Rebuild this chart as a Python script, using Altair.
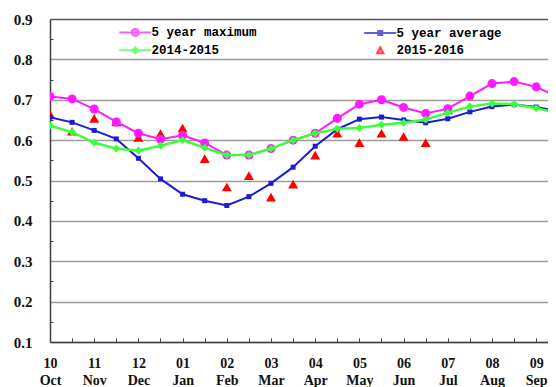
import json
import altair as alt
import pandas as pd

# ---- data (half-month steps starting at 1 Oct) ----
half_months = list(range(24))
max_5yr = [0.708, 0.702, 0.677, 0.645, 0.617, 0.602, 0.612, 0.593, 0.563, 0.563, 0.579, 0.600,
           0.617, 0.654, 0.689, 0.700, 0.681, 0.666, 0.678, 0.709, 0.740, 0.745, 0.732, 0.706]
avg_5yr = [0.657, 0.644, 0.624, 0.603, 0.555, 0.504, 0.466, 0.450, 0.438, 0.460, 0.493, 0.533,
           0.585, 0.627, 0.652, 0.657, 0.650, 0.643, 0.653, 0.670, 0.683, 0.688, 0.682, 0.671]
y_2014_2015 = [0.636, 0.620, 0.594, 0.579, 0.574, 0.586, 0.600, 0.581, 0.563, 0.563, 0.579, 0.600,
               0.617, 0.628, 0.630, 0.638, 0.643, 0.651, 0.668, 0.683, 0.691, 0.689, 0.679, 0.667]
y_2015_2016 = [0.664, 0.622, 0.654, 0.645, 0.607, 0.616, 0.630, 0.554, 0.484, 0.512, 0.459, 0.491,
               0.563, 0.617, 0.594, 0.617, 0.609, 0.594, 0.675]

month_numbers = ["10", "11", "12", "01", "02", "03", "04", "05", "06", "07", "08", "09"]
month_names = ["Oct", "Nov", "Dec", "Jan", "Feb", "Mar", "Apr", "May", "Jun", "Jul", "Aug", "Sep"]
series_names = ["5 year maximum", "5 year average", "2014-2015", "2015-2016"]
series_colors = ["#ff1aff", "#1c1cd2", "#3cff3c", "#ff0000"]
y_ticks = [0.1, 0.2, 0.3, 0.4, 0.5, 0.6, 0.7, 0.8, 0.9]
y_minor = [0.15, 0.25, 0.35, 0.45, 0.55, 0.65, 0.75, 0.85]

rows = []
for name, vals in zip(series_names, [max_5yr, avg_5yr, y_2014_2015, y_2015_2016]):
    for k, v in zip(half_months, vals):
        rows.append({"series": name, "k": k, "value": v})
df = pd.DataFrame(rows)

W, H = 498, 323
PX_PER_HALF = 22.1
x_end = round(W / PX_PER_HALF, 3)
x_scale = alt.Scale(domain=[0, x_end], nice=False, zero=False)
y_scale = alt.Scale(domain=[0.1, 0.9], nice=False, zero=False)

nums_js = json.dumps(month_numbers)
names_js = json.dumps(month_names)
x_axis = alt.Axis(
    values=[k for k in half_months if k % 2 == 0 and k <= x_end],
    labelExpr=f"[{nums_js}[datum.value / 2], {names_js}[datum.value / 2]]",
    ticks=False, tickSize=0, grid=False, domain=True, domainColor="#404040", domainWidth=1.5,
    labelFont="Liberation Serif", labelFontWeight="bold", labelFontSize=14, labelColor="#111111",
    labelPadding=14, labelLineHeight=17, labelAngle=0, labelOverlap=False, labelFlush=False,
    labelBound=False, title=None, orient="bottom",
)
y_axis = alt.Axis(
    values=y_ticks, format=".1f", ticks=False, tickSize=0, grid=True,
    gridColor={"condition": {"test": "datum.value > 0.85", "value": "#555555"}, "value": "#9c9c9c"},
    gridWidth=1.5, domain=True, domainColor="#404040", domainWidth=1.5,
    labelFont="Liberation Serif", labelFontWeight="bold", labelFontSize=15, labelColor="#111111",
    labelPadding=18, labelFlush=False, labelBound=False, title=None, orient="left",
)

X = alt.X("k:Q", scale=x_scale, axis=x_axis)
Y = alt.Y("value:Q", scale=y_scale, axis=y_axis)

base = alt.Chart(df)


def series(name):
    return base.transform_filter(alt.datum.series == name)


c_max, c_avg, c_1415, c_1516 = series_colors

red_pts = series("2015-2016").mark_point(
    shape="triangle-up", filled=True, size=100, color=c_1516, opacity=1, clip=True
).encode(x=X, y=Y)
max_line = series("5 year maximum").mark_line(color=c_max, strokeWidth=2, clip=True).encode(x=X, y=Y)
max_pts = series("5 year maximum").mark_point(
    shape="circle", filled=True, size=81, color=c_max, opacity=1, clip=True
).encode(x=X, y=Y)
avg_line = series("5 year average").mark_line(color=c_avg, strokeWidth=2, clip=True).encode(x=X, y=Y)
avg_pts = series("5 year average").mark_point(
    shape="square", filled=True, size=25, color=c_avg, opacity=1, clip=True
).encode(x=X, y=Y)
g_line = series("2014-2015").mark_line(color=c_1415, strokeWidth=2.5, clip=True).encode(x=X, y=Y)
g_pts = series("2014-2015").mark_point(
    shape="diamond", filled=True, size=64, color=c_1415, opacity=1, clip=True
).encode(x=X, y=Y)

# legend: entries listed column by column (legend fills columns first)
legend_order = ["5 year maximum", "2014-2015", "5 year average", "2015-2016"]
legend_colors = [c_max, c_1415, c_avg, c_1516]
# legend symbols: line segment with marker (unit = sqrt(size)/2 px)
legend_paths = [
    "M-3.2,0L3.2,0M0.7,0A0.7,0.7,0,1,1,-0.7,0A0.7,0.7,0,1,1,0.7,0Z",
    "M-3.2,0L3.2,0M0,-0.6L0.6,0L0,0.6L-0.6,0Z",
    "M-3.2,0L3.2,0M-0.4,-0.4L0.4,-0.4L0.4,0.4L-0.4,0.4Z",
    "M-0.65,0.6L0,-0.6L0.65,0.6Z",
]
legend = alt.Legend(
    title=None, orient="none", legendX=79, legendY=7, columns=2, columnPadding=103,
    rowPadding=3, symbolSize=100, symbolStrokeWidth=2, labelOffset=10,
    labelFont="Liberation Mono", labelFontWeight="bold", labelFontSize=12.5, labelColor="#000000",
    padding=0, gridAlign="each",
)
# legend-only layer: no rows survive the filter, the legend comes from the explicit scale domains
legend_layer = base.transform_filter("datum.k < 0").mark_point(filled=True).encode(
    x=X, y=Y,
    fill=alt.Fill("series:N", scale=alt.Scale(domain=legend_order, range=legend_colors), legend=legend),
    stroke=alt.Stroke("series:N", scale=alt.Scale(domain=legend_order, range=legend_colors), legend=legend),
    shape=alt.Shape("series:N", scale=alt.Scale(domain=legend_order, range=legend_paths), legend=legend),
)

main = alt.layer(red_pts, max_line, max_pts, avg_line, avg_pts, g_line, g_pts, legend_layer)

# inward minor ticks
x_minor_axis = alt.Axis(
    values=[k for k in half_months if k <= x_end], labels=False, domain=False, grid=False,
    ticks=True, tickSize=4, tickColor="#404040", tickWidth=1, offset=-4, title=None, orient="bottom",
)
y_minor_axis = alt.Axis(
    values=y_minor, labels=False, domain=False, grid=False,
    ticks=True, tickSize=3, tickColor="#404040", tickWidth=1, offset=-3, title=None, orient="left",
)
ticks_layer = base.mark_point(opacity=0).encode(
    x=alt.X("k:Q", scale=x_scale, axis=x_minor_axis),
    y=alt.Y("value:Q", scale=y_scale, axis=y_minor_axis),
)

chart = (
    alt.layer(main, ticks_layer)
    .resolve_axis(x="independent", y="independent")
    .properties(
        width=W, height=H,
        autosize=alt.AutoSizeParams(type="none"),
        padding={"left": 42, "top": 11, "right": 0, "bottom": 46},
        background="white",
    )
    .configure_view(stroke=None)
)

chart.save("out.html", embed_options={"renderer": "svg", "actions": False})
